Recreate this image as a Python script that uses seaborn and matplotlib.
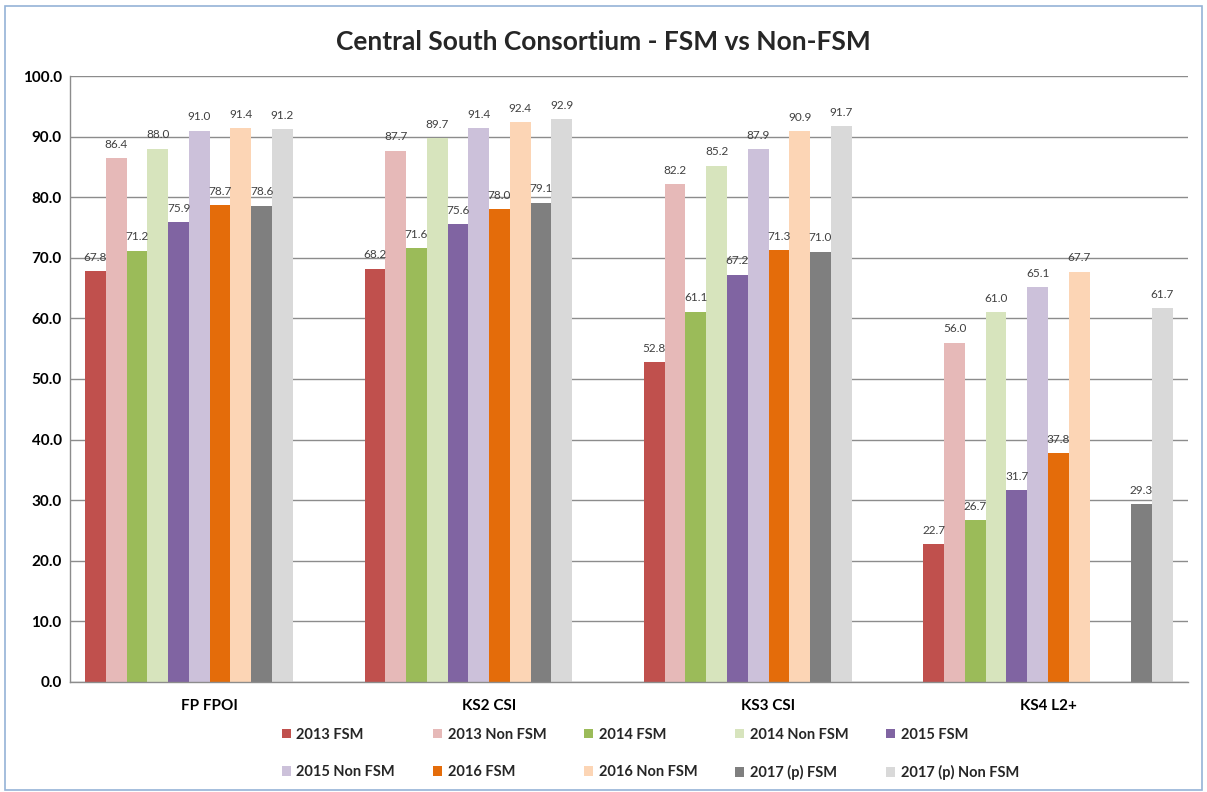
import matplotlib
matplotlib.use("Agg")
import matplotlib.pyplot as plt
import seaborn as sns
import pandas as pd
from matplotlib.patches import Patch, Rectangle
from matplotlib.ticker import FixedLocator, FormatStrFormatter

# ── data ──────────────────────────────────────────────────────────────────────

groups = ["FP FPOI", "KS2 CSI", "KS3 CSI", "KS4 L2+"]

series = [
    "2013 FSM", "2013 Non FSM", "2014 FSM", "2014 Non FSM", "2015 FSM",
    "2015 Non FSM", "2016 FSM", "2016 Non FSM", "2017 (p) FSM", "2017 (p) Non FSM",
]
# KS4 2017 figures sit in their own two slots at the end of the group
extra_series = ["2017 (p) FSM KS4", "2017 (p) Non FSM KS4"]

fp_fpoi = [67.8, 86.4, 71.2, 88.0, 75.9, 91.0, 78.7, 91.4, 78.6, 91.2]
ks2_csi = [68.2, 87.7, 71.6, 89.7, 75.6, 91.4, 78.0, 92.4, 79.1, 92.9]
ks3_csi = [52.8, 82.2, 61.1, 85.2, 67.2, 87.9, 71.3, 90.9, 71.0, 91.7]
ks4_l2 = [22.7, 56.0, 26.7, 61.0, 31.7, 65.1, 37.8, 67.7]
ks4_l2_2017 = [29.3, 61.7]

colors = [
    "#C0504D", "#E6B9B8", "#9BBB59", "#D7E4BD", "#8064A2",
    "#CCC1DA", "#E46C0A", "#FCD5B5", "#7F7F7F", "#D9D9D9",
]

rows = []
for grp, vals in zip(groups[:3], [fp_fpoi, ks2_csi, ks3_csi]):
    for s, v in zip(series, vals):
        rows.append((grp, s, v))
for s, v in zip(series, ks4_l2):
    rows.append((groups[3], s, v))
for s, v in zip(extra_series, ks4_l2_2017):
    rows.append((groups[3], s, v))
df = pd.DataFrame(rows, columns=["group", "series", "value"])

hue_order = series + extra_series
palette = dict(zip(hue_order, colors + colors[8:10]))

# ── plot ──────────────────────────────────────────────────────────────────────

sns.set_theme(style="white")
plt.rcParams["font.family"] = ["Lato", "DejaVu Sans"]

fig = plt.figure(figsize=(12.07, 7.92), dpi=100)
ax = fig.add_axes([0.058, 0.139, 0.926, 0.765])

sns.barplot(data=df, x="group", y="value", hue="series", order=groups,
            hue_order=hue_order, palette=palette, width=0.892, saturation=1,
            errorbar=None, legend=False, linewidth=0, ax=ax)

for cont in ax.containers:
    ax.bar_label(cont, fmt="%.1f", padding=6, fontsize=8.5, color="#404040")

ax.set_ylim(0, 100)
ax.set_xlim(-0.5, 3.5)
ax.set_yticks(range(0, 101, 10))
ax.yaxis.set_major_formatter(FormatStrFormatter("%.1f"))
ax.yaxis.grid(True, color="#8C8C8C", linewidth=1)
ax.set_axisbelow(True)
ax.set_xlabel("")
ax.set_ylabel("")

for lab in ax.get_yticklabels() + ax.get_xticklabels():
    lab.set_fontweight("bold")
    lab.set_fontsize(11)
    lab.set_color("black")

ax.xaxis.set_minor_locator(FixedLocator([-0.5, 0.5, 1.5, 2.5, 3.5]))
ax.tick_params(axis="x", which="major", length=0, pad=12)
ax.tick_params(axis="x", which="minor", length=5, color="#8C8C8C", direction="out")
ax.tick_params(axis="y", length=0, pad=6)

sns.despine(ax=ax, top=True, right=True)
for side in ["left", "bottom"]:
    ax.spines[side].set_color("#8C8C8C")
    ax.spines[side].set_linewidth(1)

fig.suptitle("Central South Consortium - FSM vs Non-FSM", fontsize=19,
             fontweight="bold", y=0.962)

# legend fills row by row, matplotlib fills column by column -> reorder
ncol = 5
order = [r * ncol + c for c in range(ncol) for r in range(2)]
handles = [Patch(facecolor=colors[i], edgecolor="none") for i in order]
labels = [series[i] for i in order]
fig.legend(handles, labels, loc="center", bbox_to_anchor=(0.539, 0.048),
           ncol=ncol, frameon=False, handlelength=0.6, handleheight=0.6,
           handletextpad=0.4, columnspacing=2.6, labelspacing=1.6,
           prop={"weight": "bold", "size": 10.5})

fig.patches.append(Rectangle((0.004, 0.003), 0.992, 0.989, transform=fig.transFigure,
                             fill=False, edgecolor="#95B3D7", linewidth=1.2))

plt.savefig("out.png", dpi=100)
plt.close()
